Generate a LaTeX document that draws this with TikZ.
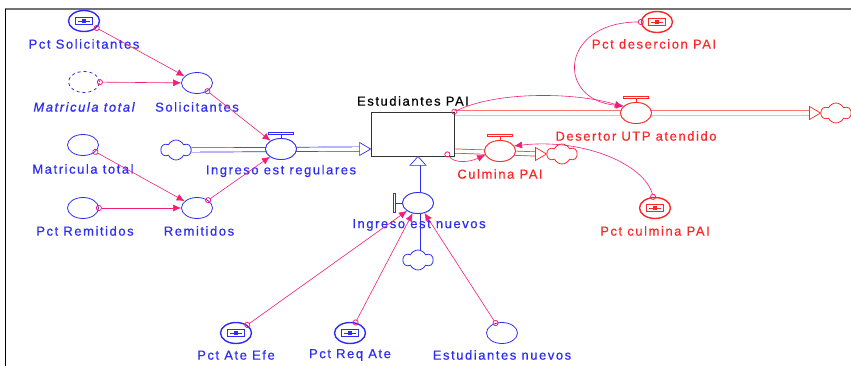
\documentclass[tikz,border=0pt]{standalone}
\usepackage{fontspec}
\setmainfont{Liberation Sans}[LetterSpace=12,FakeBold=0.6]
\usetikzlibrary{shapes.geometric,shapes.symbols,arrows.meta,calc}
\definecolor{vblue}{RGB}{45,45,245}
\definecolor{vred}{RGB}{250,40,40}
\definecolor{vlink}{RGB}{240,30,120}
\pgfdeclarelayer{bg}
\pgfsetlayers{bg,main}
\tikzset{
  auxv/.style={ellipse, draw=#1, line width=0.8pt, minimum width=31pt, minimum height=21pt, inner sep=0pt, fill=white},
  ghostv/.style={auxv=#1, dashed},
  constv/.style={auxv=#1, line width=1.4pt,
    path picture={
      \draw[#1, line width=1.2pt] ([xshift=-8.5pt,yshift=-3.5pt]path picture bounding box.center) rectangle ([xshift=8.5pt,yshift=3.5pt]path picture bounding box.center);
      \draw[#1, line width=0.8pt] ([xshift=-6pt]path picture bounding box.center) -- ([xshift=6pt]path picture bounding box.center);
      \fill[#1] ([xshift=-2.2pt,yshift=-2pt]path picture bounding box.center) rectangle ([xshift=2.2pt,yshift=2pt]path picture bounding box.center);
    }},
  valvev/.style={auxv=#1},
  stockbox/.style={draw=black!80, line width=0.8pt, minimum width=83pt, minimum height=44pt, inner sep=0pt, fill=white},
  cloudv/.style={cloud, cloud puffs=6, cloud puff arc=130, aspect=1.5, draw=#1, line width=0.8pt, fill=white, minimum width=30pt, minimum height=20pt, inner sep=0pt},
  lbl/.style={text=#1, font=\fontsize{13pt}{15pt}\selectfont, inner sep=0pt},
  pipe/.style={draw=#1, double=white, double distance=3.6pt, line width=0.7pt},
  pipehead/.style={draw=#1, fill=white, line width=0.7pt, line join=miter},
  bar/.style={draw=#1, fill=white, line width=0.7pt},
  link/.style={vlink, line width=0.6pt, shorten <=-3pt, {Circle[open,length=6pt,width=6pt,line width=0.8pt]}-{Latex[length=8pt,width=7pt]}},
}
\begin{document}
\begin{tikzpicture}[x=1pt,y=-1pt]
\useasboundingbox (0,0) rectangle (851,366);
% frame
\draw[black!55, line width=2pt] (5,9) -- (851,9);
\draw[black, line width=0.8pt] (5,9) -- (5,366);

% stock
\node[stockbox] (stock) at (412.5,134) {};
\node[lbl=black] (lStock) at (413,101) {Estudiantes PAI};

% clouds
\node[cloudv=vblue] (cReg) at (176,150) {};
\node[cloudv=vblue] (cNue) at (418,260) {};
\node[cloudv=vred] (cCul) at (562,154) {};
\node[cloudv=vred] (cDes) at (836,113) {};

% valves
\node[valvev=vblue] (vReg) at (281,149) {};
\node[valvev=vblue] (vNue) at (418,203) {};
\node[valvev=vred] (vCul) at (500,151) {};
\node[valvev=vred] (vDes) at (636,113) {};

% valve handles
\draw[vblue, line width=0.7pt] (vReg.north) -- ++(0,-4);
\draw[bar=vblue] ($(vReg.north)+(-12.5,-4)$) rectangle ++(25,-2);
\draw[vred, line width=0.7pt] (vCul.north) -- ++(0,-4);
\draw[bar=vred] ($(vCul.north)+(-12.5,-4)$) rectangle ++(25,-2);
\draw[vred, line width=0.7pt] (vDes.north) -- ++(0,-4);
\draw[bar=vred] ($(vDes.north)+(-12.5,-4)$) rectangle ++(25,-2);
\draw[vblue, line width=0.7pt] (vNue.west) -- ++(-7,0);
\draw[bar=vblue] ($(vNue.west)+(-7,-9.5)$) rectangle ++(-2,19);

% pipes
\coordinate (tReg) at (stock.west|-vReg);
\coordinate (tNue) at (stock.south-|vNue);
\coordinate (sCul) at (stock.east|-vCul);
\coordinate (sDes) at (stock.east|-vDes);
\begin{pgfonlayer}{bg}
\draw[pipe=vblue] (cReg.east) -- ($(tReg)+(-10,0)$);
\draw[pipe=vblue] (cNue.north) -- ($(tNue)+(0,9)$);
\draw[pipe=vred] (sCul) -- ($(cCul.west)+(-10,0)$);
\draw[pipe=vred] (sDes) -- ($(cDes.west)+(-10,0)$);
\end{pgfonlayer}
\draw[pipehead=vblue] (tReg) -- ++(-11,-6.5) -- ++(0,13) -- cycle;
\draw[pipehead=vblue] (tNue) -- ++(-8,9) -- ++(16,0) -- cycle;
\draw[pipehead=vred] (cCul.west) -- ++(-11,-6.5) -- ++(0,13) -- cycle;
\draw[pipehead=vred] (cDes.west) -- ++(-11,-6.5) -- ++(0,13) -- cycle;
% redraw valves on top of pipes
\node[valvev=vblue] at (vReg) {};
\node[valvev=vblue] at (vNue) {};
\node[valvev=vred] at (vCul) {};
\node[valvev=vred] at (vDes) {};

% valve labels
\node[lbl=vblue] (lReg) at (281,171) {Ingreso est regulares};
\node[lbl=vblue] (lNue) at (419,225) {Ingreso est nuevos};
\node[lbl=vred] (lCul) at (500,174) {Culmina PAI};
\node[lbl=vred] (lDes) at (636,136) {Desertor UTP atendido};

% auxiliaries and constants
\node[constv=vblue] (cpS) at (84,21) {};
\node[lbl=vblue] (lcpS) at (84,44) {Pct Solicitantes};
\node[ghostv=vblue] (ghost) at (84,82) {};
\node[lbl=vblue, font=\fontsize{13pt}{15pt}\selectfont\itshape] (lghost) at (84,107) {Matricula total};
\node[auxv=vblue] (sol) at (197,83) {};
\node[lbl=vblue] (lsol) at (197,107) {Solicitantes};
\node[auxv=vblue] (mat) at (83,145) {};
\node[lbl=vblue] (lmat) at (83,169) {Matricula total};
\node[auxv=vblue] (pRem) at (83,208) {};
\node[lbl=vblue] (lpRem) at (85,231) {Pct Remitidos};
\node[auxv=vblue] (rem) at (197,208) {};
\node[lbl=vblue] (lrem) at (199,231) {Remitidos};

\node[constv=vred] (cpDes) at (657,22) {};
\node[lbl=vred] (lcpDes) at (654,44) {Pct desercion PAI};
\node[constv=vred] (cpCul) at (655,208) {};
\node[lbl=vred] (lcpCul) at (655,231) {Pct culmina PAI};

\node[constv=vblue] (cpAte) at (236,333) {};
\node[lbl=vblue] (lcpAte) at (236,355) {Pct Ate Efe};
\node[constv=vblue] (cpReq) at (350,333) {};
\node[lbl=vblue] (lcpReq) at (350,355) {Pct Req Ate};
\node[auxv=vblue] (estN) at (502,333) {};
\node[lbl=vblue] (lestN) at (502,355) {Estudiantes nuevos};

% links
\draw[link] (cpS) -- (sol);
\draw[link] (ghost) -- (sol);
\draw[link] (sol) -- (vReg);
\draw[link] (mat) -- (rem);
\draw[link] (pRem) -- (rem);
\draw[link] (rem) -- (vReg);
\draw[link] (cpAte) -- (vNue);
\draw[link] (cpReq) -- (vNue);
\draw[link] (estN) -- (vNue);
\draw[link] (stock.north east) .. controls (500,90) and (580,93) .. (vDes.155);
\draw[link] (cpDes.west) .. controls (560,22) and (555,100) .. (vDes.150);
\draw[link] ($(stock.south east)+(-7,-2)$) .. controls (455,164) and (470,162) .. (vCul.195);
\draw[link] (cpCul.100) .. controls (645,165) and (585,138) .. (vCul.20);
\end{tikzpicture}
\end{document}
